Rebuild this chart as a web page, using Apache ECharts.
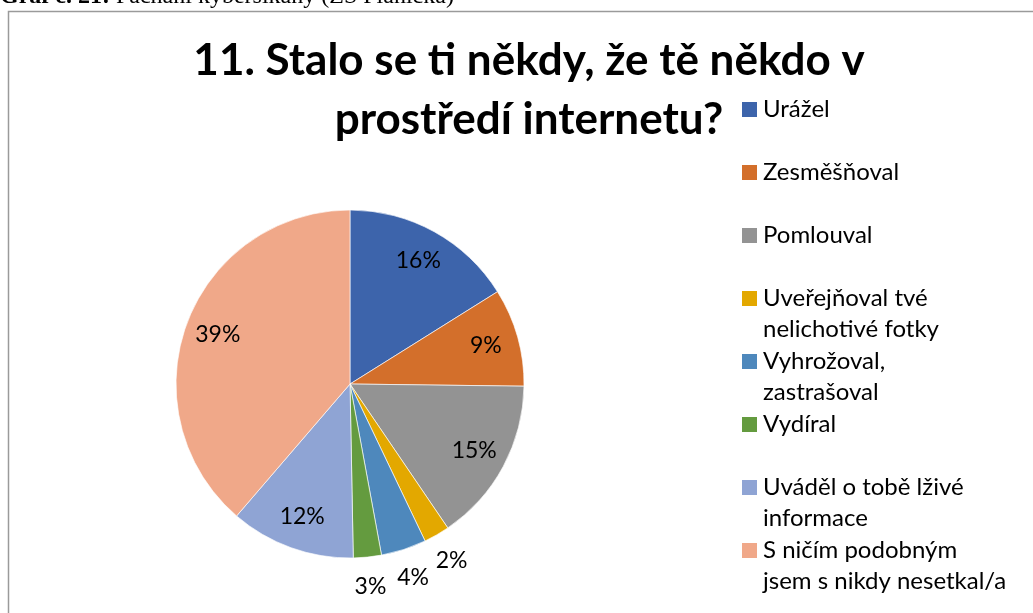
<!DOCTYPE html>
<html>
<head>
<meta charset="utf-8">
<script src="https://cdn.jsdelivr.net/npm/echarts@6/dist/echarts.min.js"></script>
<style>
  html, body { margin: 0; padding: 0; background: #fff; }
  #chart { width: 1033px; height: 613px; }
</style>
</head>
<body>
<div id="chart"></div>
<script>
const chartTitle = '11. Stalo se ti někdy, že tě někdo v\nprostředí internetu?';
const captionBold = 'Graf č. 21:';
const captionRest = ' Páchání kyberšikany (ZŠ Plánička)';
const categories = [
  'Urážel',
  'Zesměšňoval',
  'Pomlouval',
  'Uveřejňoval tvé nelichotivé fotky',
  'Vyhrožoval, zastrašoval',
  'Vydíral',
  'Uváděl o tobě lživé informace',
  'S ničím podobným jsem s nikdy nesetkal/a'
];
const legendLines = [
  ['Urážel'],
  ['Zesměšňoval'],
  ['Pomlouval'],
  ['Uveřejňoval tvé', 'nelichotivé fotky'],
  ['Vyhrožoval,', 'zastrašoval'],
  ['Vydíral'],
  ['Uváděl o tobě lživé', 'informace'],
  ['S ničím podobným', 'jsem s nikdy nesetkal/a']
];
const values = [16.1, 9.1, 15.3, 2.4, 4.2, 2.6, 11.6, 38.7];
const colors = ['#3D64AB', '#D36F2B', '#939393', '#E3A800', '#4E88BC', '#649B3F', '#8FA4D4', '#F0A889'];

const FONT = 'Lato, "Open Sans", sans-serif';
const chart = echarts.init(document.getElementById('chart'), null, { renderer: 'canvas' });

const mainData = categories.map((c, i) => ({ name: c, value: values[i], itemStyle: { color: colors[i] } }));
const isSmall = v => v < 5;
const pctLabel = p => Math.round(p.percent) + '%';

const rich = {
  t: { fontFamily: FONT, fontSize: 24, lineHeight: 31, color: '#000', padding: [0, 0, 0, 6] },
  t2: { fontFamily: FONT, fontSize: 24, lineHeight: 31, color: '#000', padding: [0, 0, 0, 21] }
};
colors.forEach((c, i) => { rich['s' + i] = { width: 15, height: 15, backgroundColor: c }; });

chart.setOption({
  animation: false,
  backgroundColor: '#fff',
  color: colors,
  title: {
    text: chartTitle,
    left: 529,
    top: 31,
    textAlign: 'center',
    padding: 0,
    textStyle: { fontFamily: FONT, fontWeight: 'bold', fontSize: 44, lineHeight: 59, color: '#000' }
  },
  legend: {
    orient: 'vertical',
    left: 736,
    top: 94,
    padding: 0,
    itemWidth: 0,
    itemHeight: 0,
    itemGap: 1,
    selectedMode: false,
    data: categories,
    formatter: function (name) {
      const i = categories.indexOf(name);
      const lines = legendLines[i];
      const second = lines.length > 1 ? lines[1] : ' ';
      return '{s' + i + '|}{t|' + lines[0] + '}\n{t2|' + second + '}';
    },
    textStyle: { fontFamily: FONT, fontSize: 24, lineHeight: 31, color: '#000', rich: rich }
  },
  graphic: [
    {
      type: 'rect',
      shape: { x: 8.5, y: 11.5, width: 1200, height: 800 },
      style: { fill: 'none', stroke: '#9a9a9a', lineWidth: 1.5 },
      silent: true
    },
    {
      type: 'text',
      x: 0,
      y: 9,
      silent: true,
      style: {
        text: '{b|' + captionBold + '}{n|' + captionRest + '}',
        verticalAlign: 'bottom',
        rich: {
          b: { fontFamily: '"Liberation Serif", "Times New Roman", serif', fontSize: 24, fontWeight: 'bold', fill: '#000' },
          n: { fontFamily: '"Liberation Serif", "Times New Roman", serif', fontSize: 24, fill: '#000' }
        }
      }
    }
  ],
  series: [
    {
      name: 'main',
      type: 'pie',
      center: [350, 384],
      radius: 174,
      startAngle: 90,
      clockwise: true,
      label: { show: false },
      labelLine: { show: false },
      itemStyle: { borderColor: 'rgba(255,255,255,0.8)', borderWidth: 0.8 },
      emphasis: { disabled: true },
      data: mainData
    },
    {
      name: 'inner labels',
      type: 'pie',
      center: [350, 384],
      radius: [102, 174],
      startAngle: 90,
      silent: true,
      avoidLabelOverlap: false,
      itemStyle: { color: 'rgba(0,0,0,0)' },
      labelLine: { show: false },
      emphasis: { disabled: true },
      data: categories.map((c, i) => ({
        name: c, value: values[i],
        label: { show: !isSmall(values[i]) }
      })),
      label: { position: 'inside', formatter: pctLabel, fontFamily: FONT, fontSize: 23, color: '#000' }
    },
    {
      name: 'outer labels',
      type: 'pie',
      center: [350, 384],
      radius: [174, 228],
      startAngle: 90,
      silent: true,
      avoidLabelOverlap: false,
      itemStyle: { color: 'rgba(0,0,0,0)' },
      labelLine: { show: false },
      emphasis: { disabled: true },
      data: categories.map((c, i) => ({
        name: c, value: values[i],
        label: { show: isSmall(values[i]) }
      })),
      label: { position: 'inside', formatter: pctLabel, fontFamily: FONT, fontSize: 23, color: '#000' }
    }
  ]
});
</script>
</body>
</html>
